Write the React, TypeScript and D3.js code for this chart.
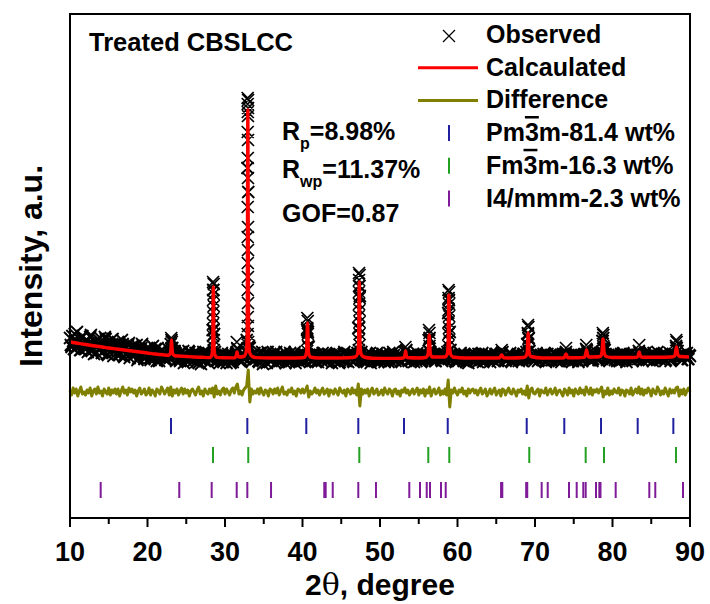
import React from "react";
import * as d3 from "d3";

// ---------------- DATA ----------------
const X_DOMAIN: [number, number] = [10, 90];
const Y_DOMAIN: [number, number] = [-100, 404]; // intensity, a.u.
const X_MAJOR = [10, 20, 30, 40, 50, 60, 70, 80, 90];
const X_MINOR = [15, 25, 35, 45, 55, 65, 75, 85];

// Observed pattern, sampled every 0.2 deg from 10.0 deg
const OBS_START = 10;
const OBS_STEP = 0.2;
const obsBand = [
  80, 71, 77, 84, 70, 75, 79, 68, 82, 74,
  69, 78, 72, 81, 67, 74, 76, 65, 79, 70,
  75, 66, 73, 79, 64, 71, 77, 68, 62, 74,
  70, 76, 63, 68, 74, 61, 72, 66, 75, 64,
  71, 62, 68, 73, 60, 66, 70, 63, 59, 69,
  64, 70, 58, 67, 61, 69, 57, 65, 62, 68,
  60, 66, 59, 63, 68, 74, 70, 61, 65, 58,
  64, 57, 62, 67, 59, 63, 56, 66, 60, 64,
  58, 65, 61, 55, 63, 59, 66, 57, 62, 60,
  64, 58, 88, 84, 62, 57, 63, 59, 65, 56,
  61, 55, 64, 58, 62, 56, 60, 64, 69, 59,
  62, 57, 64, 60, 78, 226, 70, 63, 58, 65,
  59, 64, 56, 61, 66, 58, 62, 55, 63, 60,
  57, 63, 60, 66, 56, 61, 64, 58, 62, 55,
  63, 59, 65, 57, 61, 66, 58, 62, 56, 64,
  60, 57, 63, 88, 71, 62, 58, 65, 59, 61,
  56, 63, 60, 65, 58, 62, 57, 64, 61, 55,
  62, 58, 65, 60, 56, 63, 59, 66, 57, 61,
  64, 58, 61, 56, 63, 60, 90, 122, 66, 59,
  62, 57, 64, 59, 55, 63, 60, 58, 65, 56,
  61, 58, 64, 56, 62, 59, 65, 57, 60, 63,
  57, 62, 59, 64, 56, 60, 66, 68, 61, 58,
  63, 59, 56, 62, 65, 58, 61, 57, 64, 60,
  59, 63, 80, 64, 58, 62, 57, 61, 65, 60,
  57, 62, 64, 60, 105, 86, 63, 58, 61, 56,
  62, 58, 65, 60, 57, 63, 59, 55, 64, 61,
  58, 64, 60, 56, 62, 59, 65, 57, 61, 63,
  60, 56, 63, 58, 62, 59, 57, 61, 64, 66,
  61, 57, 63, 59, 65, 56, 62, 60, 58, 64,
  59, 62, 57, 64, 61, 74, 80, 63, 58, 62,
  60, 65, 57, 61, 63, 58, 62, 56, 64, 59,
  63, 58, 61, 65, 57, 62, 60, 56, 64, 62,
  66, 61, 57, 63, 59, 64, 58, 62, 56, 61,
  63, 59, 62, 69, 64, 58, 61, 57, 63, 60,
  62, 58, 65, 66, 80, 68, 60, 63, 57, 61,
  59, 64, 60, 57, 63, 61, 58, 65, 62, 56,
  63, 59, 61, 57, 64, 60, 62, 67, 63, 58,
  61, 65, 58, 62, 59, 64, 57, 63, 60, 66,
  62, 58, 64, 60, 57, 63, 61, 65, 59, 64,
  62, 72, 67, 60, 63, 58, 64, 61, 65, 59,
  62,
];

// Observed pattern, interleaved samples from 10.1 deg (every 0.2 deg)
const OBS_MID_START = 10.1;
const obsBandMid = [
  73, 82, 69, 77, 86, 72, 68, 80, 75, 71,
  78, 66, 74, 83, 70, 64, 77, 73, 68, 80,
  65, 74, 81, 69, 63, 76, 71, 79, 66, 72,
  74, 64, 70, 78, 62, 69, 65, 73, 60, 71,
  63, 72, 67, 58, 70, 64, 74, 61, 68, 65,
  69, 60, 66, 72, 59, 63, 70, 57, 66, 61,
  65, 58, 62, 69, 60, 78, 63, 67, 57, 62,
  59, 66, 61, 55, 64, 60, 67, 58, 63, 57,
  62, 56, 65, 60, 54, 63, 58, 66, 61, 55,
  59, 64, 128, 66, 58, 62, 55, 64, 60, 57,
  63, 58, 61, 55, 64, 59, 62, 66, 60, 57,
  56, 63, 59, 66, 250, 72, 60, 57, 64, 61,
  62, 57, 65, 59, 54, 63, 61, 66, 58, 62,
  59, 65, 55, 62, 60, 57, 63, 59, 66, 58,
  61, 56, 62, 60, 64, 55, 63, 59, 61, 57,
  64, 58, 61, 86, 63, 57, 62, 60, 56, 64,
  59, 62, 57, 61, 64, 56, 60, 63, 59, 62,
  57, 63, 61, 55, 62, 59, 64, 58, 63, 56,
  60, 63, 57, 62, 59, 65, 132, 64, 61, 57,
  63, 56, 61, 65, 58, 62, 57, 64, 59, 61,
  57, 64, 60, 58, 63, 56, 62, 60, 66, 58,
  61, 58, 63, 57, 62, 59, 67, 62, 57, 63,
  59, 64, 61, 57, 60, 63, 56, 62, 59, 61,
  62, 78, 66, 60, 64, 57, 63, 59, 62, 58,
  61, 59, 63, 66, 118, 68, 60, 63, 57, 62,
  57, 63, 60, 59, 64, 56, 61, 62, 58, 63,
  61, 57, 62, 64, 58, 63, 56, 60, 64, 59,
  63, 59, 61, 57, 64, 60, 58, 62, 65, 61,
  58, 62, 60, 64, 57, 63, 59, 61, 63, 57,
  62, 58, 64, 60, 66, 84, 67, 60, 62, 57,
  61, 63, 58, 62, 60, 64, 57, 63, 60, 62,
  58, 62, 64, 59, 61, 57, 63, 60, 62, 64,
  60, 63, 59, 62, 57, 61, 64, 58, 62, 60,
  57, 62, 60, 67, 61, 58, 63, 59, 62, 66,
  60, 63, 62, 77, 70, 64, 58, 62, 60, 64,
  62, 58, 63, 61, 57, 64, 60, 62, 59, 63,
  60, 64, 58, 62, 60, 63, 59, 65, 61, 57,
  64, 60, 62, 58, 63, 61, 65, 59, 62, 60,
  59, 63, 61, 64, 58, 62, 60, 57, 63, 61,
  64, 70, 63, 60, 58, 64, 61, 62, 59, 63,
];

// Extra observed points on the Bragg peaks [2theta, intensity]
const obsPeaks: [number, number][] = [
  [23.06, 80], [23.14, 76], [23.1, 70],
  [28.46, 136], [28.54, 134], [28.47, 128], [28.53, 124], [28.46, 118], [28.54, 112],
  [28.47, 106], [28.53, 100], [28.46, 94], [28.54, 88], [28.45, 82], [28.55, 78],
  [28.44, 72], [28.56, 68],
  [31.52, 76], [31.58, 70],
  [32.92, 320], [32.98, 318], [32.93, 314], [32.97, 310], [32.94, 306], [32.96, 302],
  [32.93, 286], [32.97, 278], [32.94, 260], [32.96, 240], [32.93, 211], [32.97, 191],
  [32.93, 181], [32.97, 168], [32.94, 155], [32.96, 141], [32.93, 128], [32.97, 115],
  [32.94, 101], [32.96, 92], [32.92, 84], [32.98, 76], [32.91, 70], [32.99, 66],
  [40.62, 100], [40.68, 97], [40.61, 90], [40.69, 84], [40.6, 78], [40.7, 72], [40.6, 67],
  [47.29, 145], [47.37, 143], [47.3, 138], [47.36, 132], [47.29, 126], [47.37, 120],
  [47.3, 114], [47.36, 108], [47.29, 102], [47.37, 96], [47.3, 90], [47.36, 84],
  [47.28, 78], [47.38, 73], [47.27, 68], [47.39, 64],
  [53.28, 71], [53.33, 67],
  [56.32, 88], [56.38, 85], [56.31, 78], [56.39, 72], [56.3, 67],
  [58.84, 128], [58.92, 126], [58.85, 120], [58.91, 114], [58.84, 108], [58.92, 102],
  [58.85, 96], [58.91, 90], [58.84, 84], [58.92, 78], [58.83, 72], [58.93, 67],
  [65.7, 68],
  [69.09, 93], [69.15, 91], [69.08, 85], [69.16, 79], [69.07, 73], [69.17, 67],
  [74.0, 70],
  [76.62, 73], [76.68, 68],
  [78.75, 85], [78.81, 83], [78.74, 77], [78.82, 71], [78.73, 66],
  [83.45, 73],
  [88.22, 78], [88.28, 76], [88.21, 70],
];

// Calculated profile [2theta, intensity]
const calcPoints: [number, number][] = [
  [10, 76], [11, 74.8], [12, 73.5], [13, 72.3], [14, 71.2], [15, 70], [16, 69], [17, 68],
  [18, 67], [19, 66], [20, 65], [21, 64], [22, 63.2],
  [22.7, 62.8], [22.95, 64.5], [23.03, 69], [23.1, 78], [23.17, 69], [23.25, 64.5], [23.5, 62.3],
  [24, 62], [25, 61.5], [26, 61], [27, 60.7], [28, 60.4],
  [28.1, 60.6], [28.3, 63], [28.42, 72], [28.5, 131], [28.58, 72], [28.7, 63], [28.9, 60.6],
  [30, 60.2], [31, 60.1],
  [31.3, 60.3], [31.45, 62.5], [31.55, 66], [31.65, 62.5], [31.8, 61],
  [32.4, 61.5], [32.7, 65], [32.86, 80], [32.95, 308], [33.04, 80], [33.2, 65], [33.5, 61.5],
  [34, 60.4], [36, 60], [38, 60], [40, 60.3],
  [40.3, 61], [40.53, 66], [40.65, 95], [40.77, 66], [41.0, 61],
  [42, 60], [44, 60], [46, 60.2],
  [46.8, 61], [47.1, 64], [47.24, 75], [47.33, 136], [47.42, 75], [47.56, 64], [47.9, 61],
  [49, 59.8], [51, 59.6], [52.8, 59.8],
  [53.1, 60.5], [53.22, 63], [53.3, 67], [53.38, 63], [53.5, 60.5],
  [55, 60],
  [55.9, 60.5], [56.2, 64], [56.35, 83], [56.5, 64], [56.75, 61],
  [58.4, 61], [58.68, 64], [58.79, 74], [58.88, 123], [58.97, 74], [59.1, 64], [59.4, 61],
  [61, 60], [63, 60], [65, 60],
  [65.45, 60.3], [65.7, 63], [65.95, 60.3],
  [67, 60], [68.5, 60.5],
  [68.8, 61.5], [69.0, 66], [69.12, 85], [69.24, 66], [69.45, 61.5],
  [71, 60], [73, 60],
  [73.75, 60.3], [74, 64], [74.25, 60.3],
  [75.5, 60.2],
  [76.35, 60.6], [76.52, 63.5], [76.65, 68], [76.78, 63.5], [76.95, 61],
  [77.6, 61],
  [78.4, 61.5], [78.63, 65], [78.78, 79], [78.93, 65], [79.2, 61.5],
  [80, 60.5], [82, 60.5],
  [83.15, 60.8], [83.32, 62.5], [83.45, 66], [83.58, 62.5], [83.8, 60.8],
  [86, 60.7], [87.5, 61],
  [87.9, 61.3], [88.1, 64], [88.25, 71], [88.4, 64], [88.65, 61.5],
  [90, 61],
];

// Difference (obs - calc), same sampling as obsBand, plotted around DIFF_BASE
const DIFF_BASE = 26;
const diffRes = [
  2, -3, 4, -1, 3, -4, 1, 5, -2, 0,
  -3, 2, -1, 4, -4, 1, 3, -2, 5, -1,
  1, -4, 3, 0, -2, 4, -3, 2, -1, 3,
  -2, 3, -4, 1, 5, -1, 2, -3, 4, 0,
  3, -1, 2, -4, 1, 4, -2, 0, 3, -3,
  -1, 4, -3, 2, 0, -4, 3, 1, -2, 5,
  2, -2, 1, 4, -3, 5, -4, 2, -1, 3,
  -3, 1, 4, -2, 3, -1, 2, -4, 1, 3,
  0, -3, 2, 5, -2, 1, -4, 3, 0, -2,
  3, -1, 4, -5, 6, -2, 1, -3, 2, 4,
  -2, 3, 0, -3, 2, 4, -1, 5, 8, -2,
  1, -3, 2, 4, 6, 22, -10, 3, -2, 1,
  -1, 3, -2, 4, 0, -3, 2, 1, -4, 3,
  2, -2, 3, -1, 4, -3, 1, 5, -2, 0,
  -3, 2, 0, 4, -2, 1, -4, 3, 2, -1,
  3, -1, 2, 6, -5, 1, -2, 0, 4, -1,
  2, -3, 1, 4, -2, 0, 3, -4, 2, 1,
  -2, 3, 0, -3, 4, 1, -1, 2, -4, 3,
  1, -2, 4, -1, 2, -3, 8, -14, 3, -2,
  2, -1, 3, -4, 1, 4, -2, 0, 3, -3,
  -1, 2, -3, 4, 0, -2, 3, 1, -4, 2,
  3, -2, 1, -4, 2, 0, 4, -1, 2, -3,
  0, 3, -2, 1, 4, -3, 2, -1, 3, -4,
  2, -1, 5, -4, 1, 3, -2, 0, 4, -3,
  1, -2, 3, -3, 12, -15, 2, -1, 4, 0,
  -3, 2, 0, 4, -2, 1, -4, 3, -1, 2,
  3, -1, 2, -3, 1, 4, -2, 0, 3, -4,
  -1, 3, -2, 1, 4, -3, 0, 2, -4, 3,
  2, -3, 1, 4, -1, -2, 3, 0, -4, 2,
  0, 3, -2, 1, -3, 6, -6, 2, 4, -1,
  -2, 1, 3, -4, 2, 0, -1, 4, -3, 1,
  3, -2, 0, 4, -3, 1, 2, -1, -4, 3,
  1, -3, 4, -1, 2, -4, 3, 0, -2, 4,
  -1, 2, -3, 5, 1, -2, 4, -3, 2, 0,
  3, -1, 2, 5, -5, 1, -2, 4, -3, 1,
  -2, 3, 0, -1, 4, -3, 2, 1, -4, 2,
  1, -2, 4, -3, 0, 3, -1, 5, -2, 3,
  -3, 2, -1, 4, 1, -4, 3, 0, -2, 5,
  2, -3, 1, -2, 4, 0, -4, 3, -1, 2,
  -1, 4, 5, -4, 2, -2, 3, -3, 1, 4,
  0,
];

// Bragg reflection positions (2theta) of each phase
const pm3mRefl = [23.03, 32.88, 40.49, 47.2, 53.1, 58.74, 68.93, 73.78, 78.52, 83.25, 87.85];
const fm3mRefl = [28.45, 33.0, 47.33, 56.23, 58.94, 69.26, 76.54, 78.9, 88.19];
const i4mmmRefl = [
  13.96, 24.1, 28.28, 31.51, 32.88, 35.94, 42.81, 42.99, 43.9, 47.2, 49.48,
  53.78, 55.16, 56.03, 56.45, 57.87, 58.48, 65.62, 65.78, 68.86, 69.0, 70.86, 71.64,
  74.39, 75.38, 76.23, 76.54, 77.87, 78.3, 78.45, 80.41, 84.75, 85.52, 89.1,
];
const phaseNames = ["Pm3m-81.4 wt%", "Fm3m-16.3 wt%", "I4/mmm-2.3 wt%"];
const phaseRowLevel = [-8, -37, -72]; // intensity level of each reflection row

const statLabels = [
  { main: "R", sub: "p", rest: "=8.98%" },
  { main: "R", sub: "wp", rest: "=11.37%" },
  { main: "GOF", sub: "", rest: "=0.87" },
];

// ---------------- STYLE ----------------
const FONT = "'Liberation Sans', Arial, Helvetica, sans-serif";
const C_OBS = "#000000";
const C_CALC = "#ff0000";
const C_DIFF = "#808000";
const PHASE_COLORS = ["#1f1f9f", "#22a022", "#7f1a98"];

export default function App() {
  const L = 70, R = 690, T = 14, B = 518;
  const x = d3.scaleLinear().domain(X_DOMAIN).range([L, R]);
  const y = d3.scaleLinear().domain(Y_DOMAIN).range([B, T]);

  const xMark = (pts: [number, number][], s: number) =>
    pts
      .map(([t, v]) => {
        const px = x(t), py = y(v);
        return `M${px - s},${py - s}L${px + s},${py + s}M${px - s},${py + s}L${px + s},${py - s}`;
      })
      .join("");

  const bandPts: [number, number][] = obsBand
    .map((v, i) => [OBS_START + i * OBS_STEP, v] as [number, number])
    .concat(obsBandMid.map((v, i) => [OBS_MID_START + i * OBS_STEP, v] as [number, number]));
  const bandPath = xMark(bandPts, 6);
  const peakPath = xMark(obsPeaks, 6);

  const calcPath =
    d3
      .line<[number, number]>()
      .x((d) => x(d[0]))
      .y((d) => y(d[1]))
      .curve(d3.curveMonotoneX)(calcPoints) || "";
  const diffPts: [number, number][] = diffRes.map((r, i) => [OBS_START + i * OBS_STEP, DIFF_BASE + r]);
  const diffPath =
    d3
      .line<[number, number]>()
      .x((d) => x(d[0]))
      .y((d) => y(d[1]))(diffPts) || "";

  const refl = [pm3mRefl, fm3mRefl, i4mmmRefl];
  const tickHalf = 8;

  // legend layout
  const legX = 486;
  const legBase = [43, 75.7, 108.4, 141, 173.8, 206.5];
  const symX = 449;

  return (
    <svg
      width={710}
      height={604}
      style={{ position: "absolute", left: 0, top: 0, background: "#fff" }}
      fontFamily={FONT}
    >
      <rect x={0} y={0} width={710} height={604} fill="#fff" />
      {/* observed */}
      <path d={bandPath} stroke={C_OBS} strokeWidth={1.8} fill="none" />
      <path d={peakPath} stroke={C_OBS} strokeWidth={1.7} fill="none" />
      {/* calculated */}
      <path d={calcPath} stroke={C_CALC} strokeWidth={3.4} fill="none" strokeLinejoin="round" />
      {/* difference */}
      <path d={diffPath} stroke={C_DIFF} strokeWidth={3} fill="none" strokeLinejoin="round" />
      {/* reflection ticks */}
      {refl.map((arr, k) => (
        <g key={k} stroke={PHASE_COLORS[k]} strokeWidth={2}>
          {arr.map((t, i) => (
            <line
              key={i}
              x1={x(t)}
              x2={x(t)}
              y1={y(phaseRowLevel[k] + tickHalf)}
              y2={y(phaseRowLevel[k] - tickHalf)}
            />
          ))}
        </g>
      ))}

      {/* frame */}
      <rect x={L} y={T} width={R - L} height={B - T} fill="none" stroke="#000" strokeWidth={2} />
      {/* x ticks */}
      {X_MAJOR.map((t) => (
        <line key={"M" + t} x1={x(t)} x2={x(t)} y1={B} y2={B + 9} stroke="#000" strokeWidth={2} />
      ))}
      {X_MINOR.map((t) => (
        <line key={"m" + t} x1={x(t)} x2={x(t)} y1={B} y2={B + 6} stroke="#000" strokeWidth={2} />
      ))}
      {X_MAJOR.map((t) => (
        <text key={"l" + t} x={x(t)} y={561} textAnchor="middle" fontSize={27} fontWeight="bold">
          {t}
        </text>
      ))}
      <text x={(L + R) / 2} y={595} textAnchor="middle" fontSize={30} fontWeight="bold">
        2<tspan fontFamily="'DejaVu Serif', 'Liberation Serif', serif" fontWeight="normal">θ</tspan>, degree
      </text>
      <text
        transform={`translate(42,${(T + B) / 2}) rotate(-90)`}
        textAnchor="middle"
        fontSize={32}
        fontWeight="bold"
      >
        Intensity, a.u.
      </text>

      {/* sample name */}
      <text x={89} y={51} fontSize={25.5} fontWeight="bold">Treated CBSLCC</text>

      {/* refinement statistics */}
      {statLabels.map((st, i) => (
        <text key={i} x={282} y={[140, 178, 222][i]} fontSize={25} fontWeight="bold">
          {st.main}
          {st.sub && (
            <tspan fontSize={16} dy={9}>{st.sub}</tspan>
          )}
          <tspan dy={st.sub ? -9 : 0}>{st.rest}</tspan>
        </text>
      ))}

      {/* legend */}
      <path
        d={`M${symX - 6},${legBase[0] - 13}L${symX + 6},${legBase[0] - 1}M${symX - 6},${legBase[0] - 1}L${symX + 6},${legBase[0] - 13}`}
        stroke={C_OBS}
        strokeWidth={1.2}
      />
      <line x1={418} x2={478} y1={legBase[1] - 8} y2={legBase[1] - 8} stroke={C_CALC} strokeWidth={3} />
      <line x1={418} x2={478} y1={legBase[2] - 8} y2={legBase[2] - 8} stroke={C_DIFF} strokeWidth={3} />
      {phaseNames.map((_, k) => (
        <line
          key={k}
          x1={symX}
          x2={symX}
          y1={legBase[3 + k] - 16}
          y2={legBase[3 + k]}
          stroke={PHASE_COLORS[k]}
          strokeWidth={2}
        />
      ))}
      <g fontSize={25} fontWeight="bold">
        <text x={legX} y={legBase[0]}>Observed</text>
        <text x={legX} y={legBase[1]}>Calcaulated</text>
        <text x={legX} y={legBase[2]}>Difference</text>
        <text x={legX} y={legBase[3]}>
          Pm<tspan style={{ textDecoration: "overline" }}>3</tspan>m-81.4 wt%
        </text>
        <text x={legX} y={legBase[4]}>
          Fm<tspan style={{ textDecoration: "overline" }}>3</tspan>m-16.3 wt%
        </text>
        <text x={legX} y={legBase[5]}>I4/mmm-2.3 wt%</text>
      </g>
    </svg>
  );
}
